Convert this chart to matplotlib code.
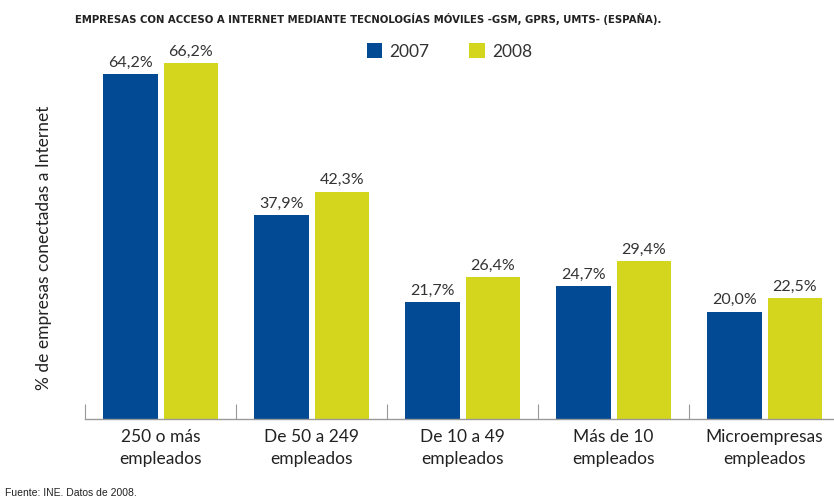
import matplotlib.pyplot as plt
import numpy as np

categorias = ["250 o más\nempleados", "De 50 a 249\nempleados", "De 10 a 49\nempleados",
              "Más de 10\nempleados", "Microempresas\nempleados"]
valores_2007 = [64.2, 37.9, 21.7, 24.7, 20.0]
valores_2008 = [66.2, 42.3, 26.4, 29.4, 22.5]
etiquetas_serie = ["2007", "2008"]

AZUL = "#024a94"
AMARILLO = "#d3d61d"
GRIS = "#333333"

plt.rcParams["font.family"] = ["Lato", "DejaVu Sans"]

fig = plt.figure(figsize=(8.34, 5.02), dpi=100)
ax = fig.add_axes([0.102, 0.163, 0.898, 0.750])

x = np.arange(len(categorias))
ancho = 0.36
b1 = ax.bar(x - 0.2, valores_2007, ancho, color=AZUL, label=etiquetas_serie[0])
b2 = ax.bar(x + 0.2, valores_2008, ancho, color=AMARILLO, label=etiquetas_serie[1])

for barras, vals in ((b1, valores_2007), (b2, valores_2008)):
    for b, v in zip(barras, vals):
        ax.text(b.get_x() + b.get_width() / 2, v + 1.0, f"{v:.1f}%".replace(".", ","),
                ha="center", va="bottom", fontsize=11.5, color=GRIS)

ax.set_xlim(-0.5, 4.46)
ax.set_ylim(0, 70)

# separadores entre grupos como ticks hacia dentro
ax.set_xticks(np.arange(len(categorias)) - 0.5)
ax.set_xticklabels([])
ax.tick_params(axis="x", which="major", direction="in", length=11, color="#999999", width=0.8)
ax.set_xticks(x, minor=True)
ax.set_xticklabels(categorias, minor=True, fontsize=12.5, color="#222222", linespacing=1.5)
ax.tick_params(axis="x", which="minor", length=0, pad=6)
ax.set_yticks([])

for s in ("top", "right", "left"):
    ax.spines[s].set_visible(False)
ax.spines["bottom"].set_color("#999999")
ax.spines["bottom"].set_linewidth(1.0)

ax.set_ylabel("% de empresas conectadas a Internet", fontsize=12.5, color="#222222")
ax.yaxis.set_label_coords(-0.044, 0.457)

leg = ax.legend(loc="upper left", bbox_to_anchor=(0.355, 1.04), ncol=2, frameon=False,
                fontsize=12.5, handlelength=0.9, handleheight=0.9, columnspacing=2.3,
                handletextpad=0.4)
for t in leg.get_texts():
    t.set_color(GRIS)

fig.text(0.09, 0.962, "EMPRESAS CON ACCESO A INTERNET MEDIANTE TECNOLOGÍAS MÓVILES -GSM, GPRS, UMTS- (ESPAÑA).",
         fontsize=7.3, fontweight="bold", color="#222222",
         family=["Liberation Sans Narrow", "DejaVu Sans"], va="center")
fig.text(0.006, 0.018, "Fuente: INE. Datos de 2008.", fontsize=7.5,
         family=["Liberation Sans", "DejaVu Sans"], color="#222222", va="center")

fig.savefig("out.png", dpi=100)
